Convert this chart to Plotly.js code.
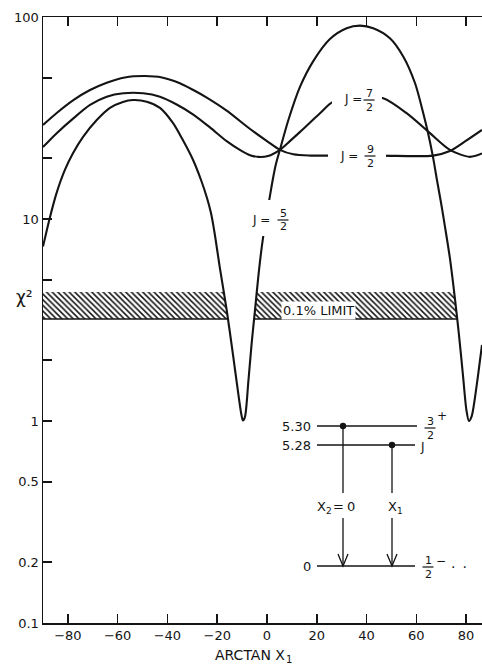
<!DOCTYPE html>
<html>
<head>
<meta charset="utf-8">
<script src="https://cdn.plot.ly/plotly-3.0.1.min.js"></script>
<style>
  html, body { margin: 0; padding: 0; background: #fff; overflow: hidden; }
  #chart { width: 482px; height: 666px; }
</style>
</head>
<body>
<div id="chart"></div>
<script>
// χ² as a function of arctan x1 for the three spin assignments of the 5.28 MeV level

// J = 5/2
const arctanJ52 = [-90, -87.2, -84.5, -81.2, -77.9, -73.9, -68.4, -63.1, -57.9, -53.8, -48.3, -43, -37.8,
  -33.8, -29.7, -26.5, -24.1, -22.5, -21.1, -18.9, -16.2, -13.7, -11.3, -10.25, -9.65, -8.85, -7.5,
  -6.15, -4.8, -3.5, -2.1, -0.4, 0.9, 2.3, 3.6, 5.2, 8.6, 13.3, 18.6, 25.3, 32, 37.4, 42.7, 49.4,
  54.8, 59.5, 62.8, 64.7, 66.7, 68.3, 69.9, 71.5, 73.5, 75.5, 77.1, 78.7, 80.15, 81.15, 82.2, 84.2,
  85.6, 86.4];
const chi2J52 = [7.3, 10.2, 13.5, 17.5, 21.2, 25.5, 30.9, 35.5, 38, 38.8, 38.1, 35.5, 29.9,
  24.6, 19.6, 15.6, 12.7, 10.7, 8.6, 5.7, 3.55, 2.15, 1.30, 1.07, 1.005, 1.047, 1.56,
  2.43, 3.55, 5.16, 7.26, 10.1, 12.4, 15.6, 18.7, 22, 30.9, 45.2, 60.5, 77.8, 88, 90.6, 88, 78.5,
  63.6, 47, 33.4, 26.7, 20.3, 15.6, 12.1, 9.2, 6.4, 4.06, 2.70, 1.71, 1.13, 1.0, 1.05, 1.48,
  2.0, 2.38];

// J = 7/2
const arctanJ72 = [-90, -84.5, -77.8, -71.1, -64.4, -57.7, -49.7, -43, -36.3, -29.6, -22.9, -16.2,
  -10.9, -6.8, -3.5, 0.4, 5.2, 9.2, 13.3, 21.3, 26.6, 36.6, 46.7, 56.1, 65.5, 73.5, 81.5, 86.4];
const chi2J72 = [22.7, 26.6, 31.5, 36.7, 40.3, 41.9, 41.9, 40.3, 36.9, 32.9, 28.4, 24.3,
  22.0, 20.7, 20.3, 20.5, 22, 24.3, 27.0, 33.4, 38.1, 40.4, 39.6, 33.4, 26.6, 22, 20.3, 21.1];

// J = 9/2
const arctanJ92 = [-90, -84.5, -77.8, -71.1, -64.4, -57.1, -49, -42.2, -35, -29.6, -24.2, -16.2, -6.8,
  0, 5.2, 10.6, 17.3, 24, 45.4, 66.8, 73.5, 80.2, 86.4];
const chi2J92 = [29.2, 33.5, 38.8, 43.5, 47.3, 50.2, 51.0, 50.2, 47.0, 43.5, 39.9, 34.4, 27.9,
  24.3, 22, 20.9, 20.6, 20.6, 20.6, 20.6, 21.7, 24.5, 27.6];

// 0.1% confidence limit band
const limitLow = 3.2;
const limitHigh = 4.35;

// axis ticks: labelled values and unlabelled intermediate ticks
const xTicks = [-80, -60, -40, -20, 0, 20, 40, 60, 80];
const yTicks = [0.1, 0.2, 0.5, 1, 10, 100];
const yTickText = ['0.1', '0.2', '0.5', '1', '10', '100'];
const yMinorTicks = [2, 5, 20, 50];

// level scheme of the inset
const levelEnergies = ['5.30', '5.28', '0'];

const xRange = [-90, 86.4];
const ink = '#141414';
const font = 'DejaVu Sans';

// plot area in pixels (used to place the hand-drawn inset)
const M = { l: 43, r: 0, t: 17, b: 43 };
const W = 482, H = 666;
const pw = W - M.l - M.r, ph = H - M.t - M.b;
const px = p => (p - M.l) / pw;
const py = p => (H - M.b - p) / ph;

// x positions where the J = 5/2 curve crosses a level (log interpolation)
function crossings(xs, ys, level) {
  const out = [];
  const L = Math.log10(level);
  for (let i = 1; i < xs.length; i++) {
    const a = Math.log10(ys[i - 1]) - L, b = Math.log10(ys[i]) - L;
    if ((a < 0) !== (b < 0)) out.push(xs[i - 1] + (xs[i] - xs[i - 1]) * a / (a - b));
  }
  return out;
}
function edges(level) {
  const e = [xRange[0], ...crossings(arctanJ52, chi2J52, level)];
  if (e.length % 2) e.push(xRange[1]);
  return e;
}
const eLo = edges(limitLow), eHi = edges(limitHigh);

const traces = [];
for (let k = 0; k + 1 < eLo.length; k += 2) {
  traces.push({
    x: [eLo[k], eLo[k + 1], eHi[k + 1], eHi[k], eLo[k]],
    y: [limitLow, limitLow, limitHigh, limitHigh, limitLow],
    mode: 'lines', fill: 'toself',
    line: { width: 0, color: 'rgba(0,0,0,0)' },
    fillcolor: 'white',
    fillpattern: { shape: '\\', size: 4, solidity: 0.38, fgcolor: ink, bgcolor: 'white' },
    hoverinfo: 'skip', showlegend: false
  });
  traces.push({
    x: [eLo[k], eLo[k + 1]], y: [limitLow, limitLow],
    mode: 'lines', line: { color: ink, width: 1.6 },
    hoverinfo: 'skip', showlegend: false
  });
}

const curveLine = { color: ink, width: 2.1, shape: 'spline', smoothing: 0.8 };
[[arctanJ52, chi2J52], [arctanJ72, chi2J72], [arctanJ92, chi2J92]].forEach(([x, y]) => {
  traces.push({ x, y, mode: 'lines', line: curveLine, hoverinfo: 'skip', showlegend: false });
});

const ann = (x, y, text, size, extra) => Object.assign({
  xref: 'paper', yref: 'paper', x: px(x), y: py(y), text, showarrow: false,
  font: { family: font, size, color: ink }, xanchor: 'center', yanchor: 'middle'
}, extra || {});

const lineShape = (x0, y0, x1, y1, w) => ({
  type: 'line', xref: 'paper', yref: 'paper', layer: 'above',
  x0: px(x0), y0: py(y0), x1: px(x1), y1: py(y1), line: { color: ink, width: w || 1.3 }
});
// white patch that breaks a line under its label
const gap = (cx, cy, w, h) => ({
  type: 'rect', xref: 'paper', yref: 'paper', layer: 'above',
  x0: px(cx - w / 2), x1: px(cx + w / 2), y0: py(cy + h / 2), y1: py(cy - h / 2),
  fillcolor: 'white', line: { width: 0 }
});
const dot = (x, y) => ({
  type: 'circle', xref: 'paper', yref: 'paper', layer: 'above',
  xsizemode: 'pixel', ysizemode: 'pixel',
  xanchor: px(x), yanchor: py(y), x0: -3.2, x1: 3.2, y0: -3.2, y1: 3.2,
  fillcolor: ink, line: { width: 0 }
});
const head = (x, y) => ({
  type: 'path', xref: 'paper', yref: 'paper', layer: 'above',
  path: `M${px(x - 5)},${py(y - 12)} L${px(x)},${py(y)} L${px(x + 5)},${py(y - 12)}`,
  line: { color: ink, width: 1.3 }
});

const shapes = [];
const annotations = [];

// stacked fraction: numerator, bar, denominator
function fraction(cx, cy, n, d) {
  annotations.push(ann(cx, cy - 6.5, String(n), 11));
  annotations.push(ann(cx, cy + 7, String(d), 11));
  shapes.push(lineShape(cx - 5.5, cy, cx + 5.5, cy, 1.2));
}

// curve labels, each sitting in a break of its curve
shapes.push(gap(357, 100, 50, 18), gap(357, 156, 58, 16), gap(271, 218, 38, 36));
annotations.push(ann(353, 99, 'J =', 12)); fraction(369, 100, 7, 2);
annotations.push(ann(349, 156, 'J =', 12)); fraction(370, 156, 9, 2);
annotations.push(ann(261, 220, 'J =', 12)); fraction(283, 220, 5, 2);

// confidence band label
annotations.push(ann(318, 310, '0.1% LIMIT', 13, { bgcolor: 'white', borderpad: 1 }));

// axis labels
annotations.push(ann(24, 297, 'χ²', 17));
annotations.push(ann(287, 655, 'ARCTAN X', 14, { xanchor: 'right' }));
annotations.push(ann(284, 659, '1', 10, { xanchor: 'left' }));

// level scheme
shapes.push(
  lineShape(317, 426, 417, 426), lineShape(317, 445, 415, 445), lineShape(317, 566, 415, 566),
  lineShape(343, 426, 343, 566), lineShape(392, 445, 392, 566),
  head(343, 566), head(392, 566),
  dot(343, 426), dot(392, 445),
  gap(338, 505.5, 44, 25), gap(394, 505.5, 18, 25)
);
annotations.push(
  ann(313, 426, levelEnergies[0], 13, { xanchor: 'right' }),
  ann(313, 445, levelEnergies[1], 13, { xanchor: 'right' }),
  ann(313, 566, levelEnergies[2], 13, { xanchor: 'right' }),
  ann(442, 416, '+', 12),
  ann(422, 447, 'J', 12),
  ann(441, 561, '\u2212', 12),
  ann(459, 567, '·\u2002·', 14),
  // transition labels X2 = 0 and X1
  ann(321.5, 506, 'X', 13), ann(328.5, 511, '2', 9), ann(338.5, 506, '=', 13), ann(350.5, 506, '0', 13),
  ann(392.5, 506, 'X', 13), ann(399.5, 511, '1', 9)
);
fraction(430, 428, 3, 2);
fraction(428, 567, 1, 2);

const axisCommon = {
  showgrid: false, zeroline: false, showline: true, linecolor: ink, linewidth: 1.5,
  ticks: 'inside', ticklen: 9, tickwidth: 1.5, tickcolor: ink,
  tickfont: { family: font, size: 13, color: ink }
};

const layout = {
  width: W, height: H, margin: M,
  paper_bgcolor: 'white', plot_bgcolor: 'white',
  font: { family: font, color: ink },
  xaxis: Object.assign({}, axisCommon, {
    range: xRange, tickmode: 'array', tickvals: xTicks, mirror: 'ticks'
  }),
  yaxis: Object.assign({}, axisCommon, {
    type: 'log', range: [-1, 2], tickmode: 'array', tickvals: yTicks, ticktext: yTickText, mirror: false,
    minor: { tickmode: 'array', tickvals: yMinorTicks, ticks: 'inside', ticklen: 9, tickwidth: 1.5,
      tickcolor: ink, showgrid: false }
  }),
  annotations, shapes, showlegend: false
};

Plotly.newPlot('chart', traces, layout, { displayModeBar: false, staticPlot: true });
</script>
</body>
</html>
